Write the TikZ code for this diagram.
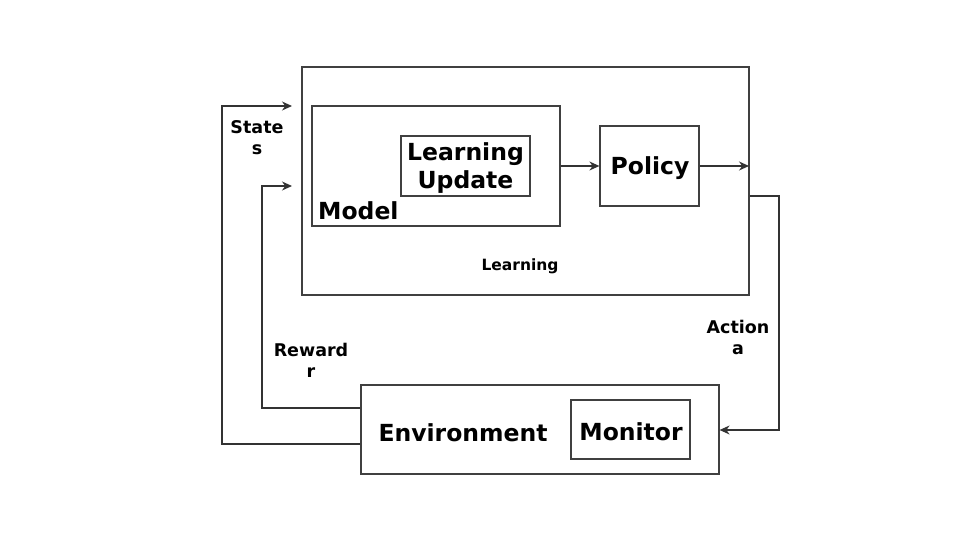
\documentclass[tikz,border=0pt]{standalone}
\usepackage{fontspec}
\setmainfont{DejaVu Sans}
\usetikzlibrary{arrows.meta}
\begin{document}
\begin{tikzpicture}[x=1pt,y=-1pt,
  box/.style={draw=black!75,line width=1.2pt,inner sep=0pt},
  big/.style={font=\fontsize{23.5}{28}\selectfont\bfseries,align=center,inner sep=0pt},
  small/.style={font=\fontsize{17.5}{21}\selectfont\bfseries,align=center,inner sep=0pt},
  conn/.style={draw=black!80,line width=1.2pt},
  arr/.style={conn,-{Stealth[length=10pt,width=9pt]}}]
\useasboundingbox (0,0) rectangle (960,540);
\node[box,minimum width=447pt,minimum height=228pt] (learn) at (525.5,181) {};
\node[small,font=\fontsize{15.5}{18}\selectfont\bfseries] (learnlbl) at (520,266) {Learning};
\node[box,minimum width=248pt,minimum height=120pt] (model) at (436,166) {};
\node[big,anchor=base west] (modellbl) at (318,219) {Model};
\node[box,minimum width=129pt,minimum height=60pt] (lu) at (465.5,166) {};
\node[big] (lutxt) at (465.5,168) {Learning\\Update};
\node[box,minimum width=99pt,minimum height=80pt] (policy) at (649.5,166) {};
\node[big] (policytxt) at (650,168) {Policy};
\node[box,minimum width=358pt,minimum height=89pt] (env) at (540,429.5) {};
\node[big] (envtxt) at (463,433) {Environment};
\node[box,minimum width=119pt,minimum height=59pt] (mon) at (630.5,429.5) {};
\node[big] (montxt) at (631,432) {Monitor};
\node[small] (statelbl) at (257,138) {State\\s};
\node[small] (rewardlbl) at (311,360) {Reward\\r};
\node[small] (actionlbl) at (738,337) {Action\\a};
\coordinate (sin) at (292,106);
\coordinate (rin) at (292,186);
\coordinate (pout) at (749,166);
\draw[arr] (model.east) -- (policy.west);
\draw[arr] (policy.east) -- (pout);
\draw[arr] (learn.south east |- 0,196) -- (779,196) -- (779,430) -- (env.east |- 0,430);
\draw[arr] (env.west |- 0,408) -- (262,408) -- (262,186) -- (rin);
\draw[arr] (env.west |- 0,444) -- (222,444) -- (222,106) -- (sin);
\end{tikzpicture}
\end{document}
